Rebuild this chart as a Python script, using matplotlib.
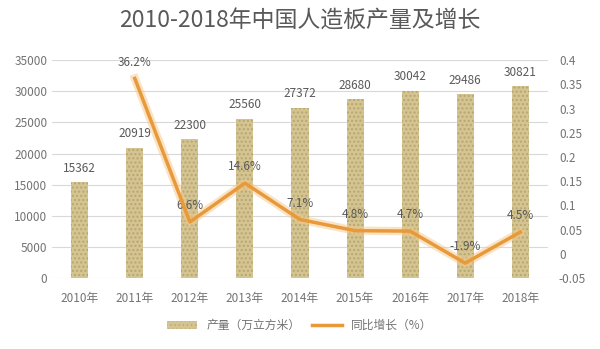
import matplotlib.pyplot as plt
import numpy as np

plt.rcParams['font.family'] = ['Noto Sans CJK SC', 'DejaVu Sans']

years = ['2010年', '2011年', '2012年', '2013年', '2014年', '2015年', '2016年', '2017年', '2018年']
output = [15362, 20919, 22300, 25560, 27372, 28680, 30042, 29486, 30821]
growth = [None, 0.362, 0.066, 0.146, 0.071, 0.048, 0.047, -0.019, 0.045]
growth_labels = ['', '36.2%', '6.6%', '14.6%', '7.1%', '4.8%', '4.7%', '-1.9%', '4.5%']

grey = '#595959'
tick_grey = '#737373'
bar_color = '#D4C492'
line_color = '#E8993A'

fig = plt.figure(figsize=(6, 3.49), dpi=100)
ax = fig.add_axes([0.087, 0.203, 0.826, 0.625])
x = np.arange(len(years))

ax.bar(x, output, width=0.31, color=bar_color, hatch='....', edgecolor='#B9A66E', linewidth=0, zorder=2,
       label='产量（万立方米）')
plt.rcParams['hatch.linewidth'] = 0.5
for xi, v in zip(x, output):
    ax.text(xi, v + 1200, str(v), ha='center', va='bottom', fontsize=8.5, color=grey)

ax.set_ylim(0, 35000)
ax.set_yticks(range(0, 35001, 5000))
ax.set_xlim(-0.5, len(years) - 0.5)
ax.set_xticks(x)
ax.set_xticklabels(years, fontsize=8.5, color=tick_grey)
ax.tick_params(axis='both', length=0, labelsize=8.5, labelcolor=tick_grey)
ax.tick_params(axis='x', pad=10)
ax.grid(axis='y', color='#D9D9D9', linewidth=0.8, zorder=0)
for s in ax.spines.values():
    s.set_visible(False)

ax2 = ax.twinx()
gx = [xi for xi, g in zip(x, growth) if g is not None]
gy = [g for g in growth if g is not None]
ax2.plot(gx, gy, color='#F6C98A', linewidth=6, alpha=0.5, zorder=3)
ax2.plot(gx, gy, color=line_color, linewidth=2.5, zorder=4, label='同比增长（%）')
for xi, g, lab in zip(x, growth, growth_labels):
    if g is None:
        continue
    ax2.text(xi, g + 0.02, lab, ha='center', va='bottom', fontsize=8.5, color=grey)
ax2.set_ylim(-0.05, 0.4)
ax2.set_yticks(np.arange(-0.05, 0.401, 0.05))
ax2.set_yticklabels(['-0.05', '0', '0.05', '0.1', '0.15', '0.2', '0.25', '0.3', '0.35', '0.4'])
ax2.tick_params(axis='y', length=0, labelsize=8.5, labelcolor=tick_grey, pad=8)
for s in ax2.spines.values():
    s.set_visible(False)

fig.text(0.5, 0.94, '2010-2018年中国人造板产量及增长', ha='center', va='center', fontsize=16.5, color=grey)

h1, l1 = ax.get_legend_handles_labels()
h2, l2 = ax2.get_legend_handles_labels()
fig.legend(h1 + h2, l1 + l2, loc='center', bbox_to_anchor=(0.5, 0.068), ncol=2, frameon=False,
           fontsize=8.5, labelcolor=tick_grey, handlelength=2.5, columnspacing=1.0)

fig.savefig('out.png')
